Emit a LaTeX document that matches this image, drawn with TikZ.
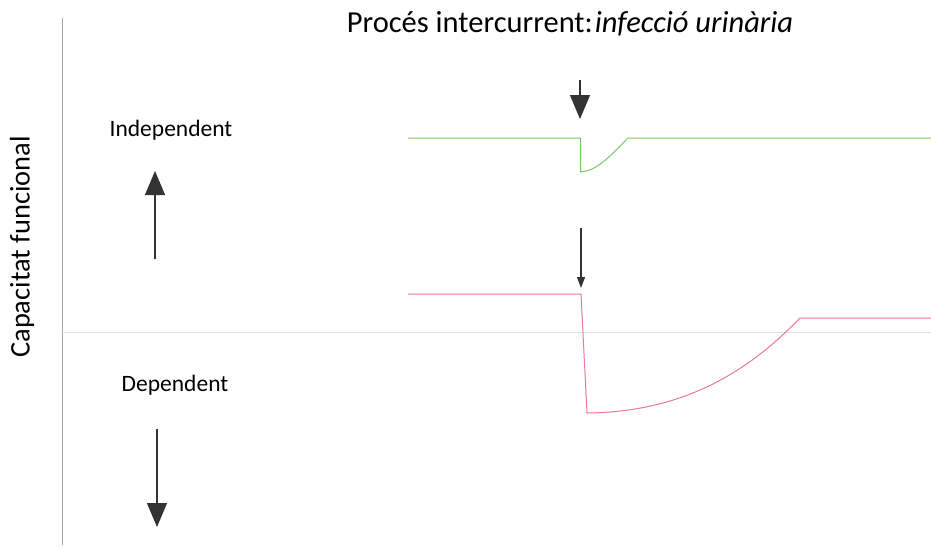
\documentclass[tikz,border=0pt]{standalone}
\usepackage{fontspec}
\setmainfont{Carlito}
\usetikzlibrary{arrows.meta}
\definecolor{axisgray}{RGB}{165,165,165}
\definecolor{midgray}{RGB}{225,225,225}
\definecolor{curvegreen}{RGB}{120,200,100}
\definecolor{curvepink}{RGB}{235,120,155}
\tikzset{
  label/.style={inner sep=0pt, text=black},
  bigarrow/.style={draw=black!80, line width=1.1pt, -{Triangle[width=20pt,length=24pt]}},
  smallarrow/.style={draw=black!80, line width=1.1pt, -{Triangle[width=8pt,length=11pt]}},
  course/.style={line width=1pt, line join=miter},
}
\begin{document}
\begin{tikzpicture}[x=1pt,y=-1pt]
\useasboundingbox (0,0) rectangle (931,547);
\fill[white] (0,0) rectangle (931,547);

% axes
\coordinate (axtop) at (62,18);
\coordinate (axbot) at (62,545);
\draw[axisgray, line width=1pt] (axtop) -- (axbot);
\coordinate (midL) at (62,332);
\coordinate (midR) at (931,332);
\draw[midgray, line width=0.8pt] (midL) -- (midR);

% labels
\node[label, rotate=90, font=\fontsize{28.4}{32}\selectfont] (ylab) at (22,247) {Capacitat funcional};
\node[label, font=\fontsize{23.5}{27}\selectfont] (indep) at (171,130) {Independent};
\node[label, font=\fontsize{23.5}{27}\selectfont] (dep) at (175,385) {Dependent};
\node[label, font=\fontsize{30.5}{34}\selectfont] (title) at (570,24) {Procés intercurrent:\kern2pt\textit{infecció urinària}};

% direction arrows
\coordinate (upS) at (155,259);
\coordinate (upE) at (155,171);
\draw[bigarrow] (upS) -- (upE);
\coordinate (dnS) at (157,429);
\coordinate (dnE) at (157,527);
\draw[bigarrow] (dnS) -- (dnE);

% onset markers
\coordinate (tS) at (580,80);
\coordinate (tE) at (580,119);
\draw[bigarrow] (tS) -- (tE);
\coordinate (pS) at (581,228);
\coordinate (pE) at (581,288);
\draw[smallarrow] (pS) -- (pE);

% independent course
\coordinate (g0) at (408,138);
\coordinate (g1) at (580.5,138);
\coordinate (g2) at (580.5,172);
\coordinate (g3) at (586,171);
\coordinate (g4) at (628,138);
\coordinate (g5) at (931,138);
\draw[curvegreen, course] (g0) -- (g1) -- (g2) -- (g3)
  .. controls (600,168) and (614,152) .. (g4) -- (g5);

% dependent course
\coordinate (p0) at (408,294);
\coordinate (p1) at (581,294);
\coordinate (p2) at (587,413);
\coordinate (p3) at (800,318);
\coordinate (p4) at (931,318);
\draw[curvepink, course] (p0) -- (p1) -- (p2)
  .. controls (680,412) and (745,375) .. (p3) -- (p4);
\end{tikzpicture}
\end{document}
